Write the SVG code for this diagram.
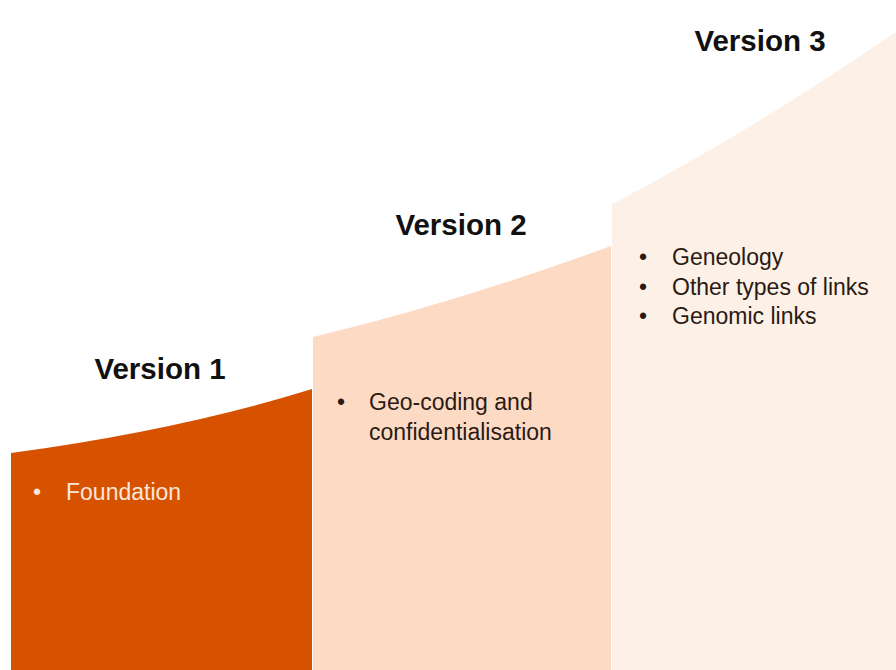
<svg xmlns="http://www.w3.org/2000/svg" width="896" height="670" viewBox="0 0 896 670">
<style>
.title{font-family:"Liberation Sans",Arial,sans-serif;font-weight:bold;font-size:29.5px;fill:#111;text-anchor:middle}
.body{font-family:"Liberation Sans",Arial,sans-serif;font-size:23px;fill:#2a1a14}
.light{fill:#FBE6D8}
</style>
<rect width="896" height="670" fill="#ffffff"/>
<g id="v1">
<path d="M11,453 Q180,430 312,389 L312,670 L11,670 Z" fill="#D65200"/>
<text class="title" x="160" y="379">Version 1</text>
<text class="body light" x="33" y="500">•</text>
<text class="body light" x="66" y="500">Foundation</text>
</g>
<g id="v2">
<path d="M313,337 Q455,303 611,246 L611,670 L313,670 Z" fill="#FDDAC4"/>
<text class="title" x="461" y="235">Version 2</text>
<text class="body" x="337" y="410">•</text>
<text class="body" x="369" y="410">Geo-coding and</text>
<text class="body" x="369" y="440">confidentialisation</text>
</g>
<g id="v3">
<path d="M612,204 Q745,135 896,32 L896,670 L612,670 Z" fill="#FDF0E6"/>
<text class="title" x="760" y="51">Version 3</text>
<text class="body" x="639" y="265">•</text>
<text class="body" x="672" y="265">Geneology</text>
<text class="body" x="639" y="295">•</text>
<text class="body" x="672" y="295">Other types of links</text>
<text class="body" x="639" y="324">•</text>
<text class="body" x="672" y="324">Genomic links</text>
</g>
<g id="connectors"></g>
</svg>
